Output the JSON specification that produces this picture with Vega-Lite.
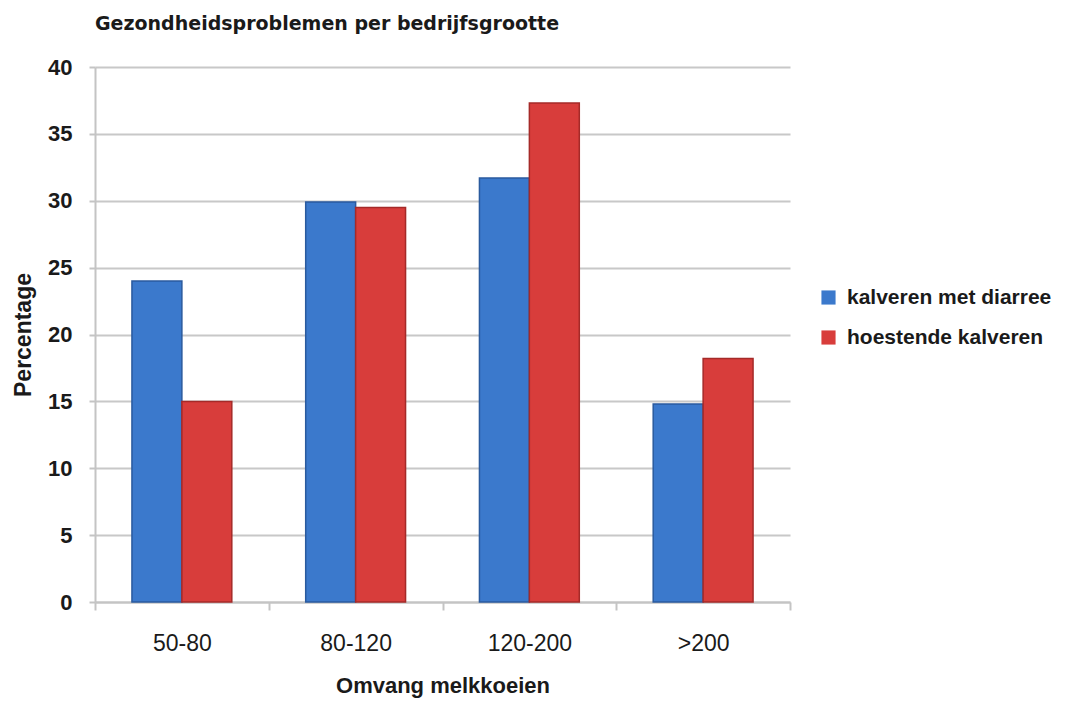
{
  "$schema": "https://vega.github.io/schema/vega-lite/v6.json",
  "width": 695,
  "height": 535,
  "autosize": {"type": "none"},
  "padding": {"left": 95, "top": 67, "right": 280, "bottom": 111},
  "background": "white",
  "title": {
    "text": "Gezondheidsproblemen per bedrijfsgrootte",
    "anchor": "start",
    "frame": "group",
    "offset": 22,
    "font": "DejaVu Sans",
    "fontSize": 19,
    "fontWeight": "bold",
    "color": "#1a1a1a"
  },
  "config": {
    "view": {"stroke": null},
    "font": "Liberation Sans"
  },
  "data": {
    "values": [
      {"grootte": "50-80", "probleem": "kalveren met diarree", "percentage": 24.0},
      {"grootte": "50-80", "probleem": "hoestende kalveren", "percentage": 15.0},
      {"grootte": "80-120", "probleem": "kalveren met diarree", "percentage": 29.9},
      {"grootte": "80-120", "probleem": "hoestende kalveren", "percentage": 29.5},
      {"grootte": "120-200", "probleem": "kalveren met diarree", "percentage": 31.7},
      {"grootte": "120-200", "probleem": "hoestende kalveren", "percentage": 37.3},
      {"grootte": ">200", "probleem": "kalveren met diarree", "percentage": 14.8},
      {"grootte": ">200", "probleem": "hoestende kalveren", "percentage": 18.2}
    ]
  },
  "mark": {"type": "bar", "strokeWidth": 1.5},
  "encoding": {
    "x": {
      "field": "grootte",
      "type": "nominal",
      "sort": ["50-80", "80-120", "120-200", ">200"],
      "scale": {"paddingInner": 0, "paddingOuter": 0},
      "axis": {
        "title": "Omvang melkkoeien",
        "titleFontSize": 22,
        "titleFontWeight": "bold",
        "titleColor": "#1a1a1a",
        "titlePadding": 20,
        "labelAngle": 0,
        "labelFontSize": 23,
        "labelColor": "#1a1a1a",
        "labelPadding": 22,
        "tickBand": "extent",
        "tickSize": 8,
        "tickWidth": 2,
        "tickColor": "#c4c4c4",
        "domainColor": "#c4c4c4",
        "domainWidth": 2,
        "grid": false
      }
    },
    "xOffset": {
      "field": "probleem",
      "type": "nominal",
      "sort": ["kalveren met diarree", "hoestende kalveren"],
      "scale": {"paddingInner": 0, "paddingOuter": 0.74}
    },
    "y": {
      "field": "percentage",
      "type": "quantitative",
      "scale": {"domain": [0, 40]},
      "axis": {
        "title": "Percentage",
        "titleFontSize": 23,
        "titleFontWeight": "bold",
        "titleColor": "#1a1a1a",
        "titlePadding": 12,
        "values": [0, 5, 10, 15, 20, 25, 30, 35, 40],
        "labelFontSize": 22,
        "labelFontWeight": "bold",
        "labelColor": "#1a1a1a",
        "labelPadding": 17,
        "tickSize": 6,
        "tickWidth": 2,
        "tickColor": "#c4c4c4",
        "domainColor": "#c4c4c4",
        "domainWidth": 2,
        "gridColor": "#c8c8c8",
        "gridWidth": 2
      }
    },
    "color": {
      "field": "probleem",
      "type": "nominal",
      "scale": {
        "domain": ["kalveren met diarree", "hoestende kalveren"],
        "range": ["#3b79cc", "#d83d3b"]
      },
      "legend": {
        "title": null,
        "orient": "none",
        "legendX": 723,
        "legendY": 220,
        "padding": 0,
        "symbolType": "square",
        "symbolSize": 200,
        "symbolStrokeWidth": 0,
        "labelFontSize": 21,
        "labelFontWeight": "bold",
        "labelColor": "#1a1a1a",
        "labelOffset": 8,
        "labelLimit": 300,
        "rowPadding": 18
      }
    },
    "stroke": {
      "field": "probleem",
      "type": "nominal",
      "scale": {
        "domain": ["kalveren met diarree", "hoestende kalveren"],
        "range": ["#2a5a9e", "#a52a28"]
      },
      "legend": null
    }
  }
}
